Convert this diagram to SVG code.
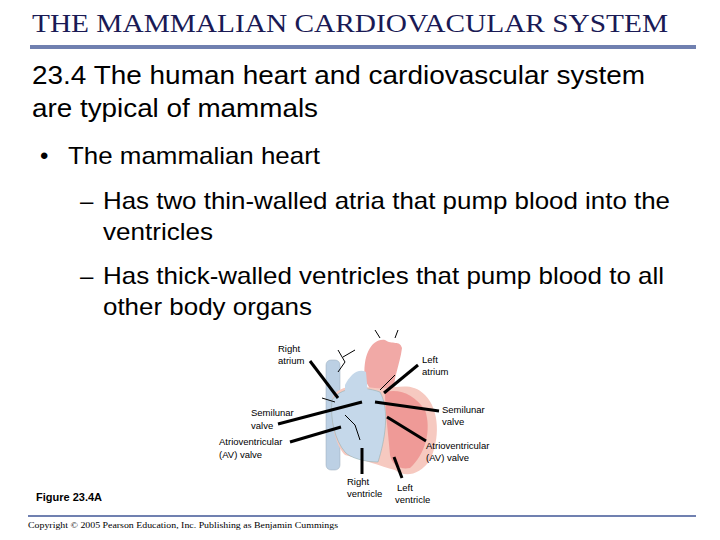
<svg xmlns="http://www.w3.org/2000/svg" width="720" height="540" viewBox="0 0 720 540">
<style>
.t{font-family:"Liberation Sans",Arial,sans-serif;fill:#000}
.s{font-family:"Liberation Sans",Arial,sans-serif;font-size:9.5px;fill:#000}
.ld{stroke:#000;stroke-width:3;fill:none}
.sm{stroke:#000;stroke-width:1;fill:none}
</style>
<rect width="720" height="540" fill="#fff"/>
<text x="32" y="32" font-family="Liberation Serif,serif" font-size="26" fill="#1a1a55" textLength="636" lengthAdjust="spacingAndGlyphs">THE MAMMALIAN CARDIOVACULAR SYSTEM</text>
<rect x="30" y="45" width="666" height="4" fill="#7080b0"/>
<text class="t" x="32" y="84" font-size="26" textLength="613" lengthAdjust="spacingAndGlyphs">23.4 The human heart and cardiovascular system</text>
<text class="t" x="32" y="117" font-size="26" textLength="286" lengthAdjust="spacingAndGlyphs">are typical of mammals</text>
<text class="t" x="40" y="164" font-size="24">•</text>
<text class="t" x="68" y="164" font-size="24" textLength="252" lengthAdjust="spacingAndGlyphs">The mammalian heart</text>
<text class="t" x="80" y="209" font-size="24">–</text>
<text class="t" x="103" y="209" font-size="24" textLength="567" lengthAdjust="spacingAndGlyphs">Has two thin-walled atria that pump blood into the</text>
<text class="t" x="103" y="240" font-size="24" textLength="110" lengthAdjust="spacingAndGlyphs">ventricles</text>
<text class="t" x="80" y="284" font-size="24">–</text>
<text class="t" x="103" y="284" font-size="24" textLength="561" lengthAdjust="spacingAndGlyphs">Has thick-walled ventricles that pump blood to all</text>
<text class="t" x="103" y="315" font-size="24" textLength="209" lengthAdjust="spacingAndGlyphs">other body organs</text>
<g id="heart">
<rect x="326" y="360" width="14" height="110" rx="5" fill="#bcd0e4" stroke="#9ab" stroke-width="0.5"/>
<path d="M365 380 C362 355,372 338,385 340 C392 345,400 340,402 348 C400 365,392 380,395 392 L375 398 Z" fill="#f1a9a6"/>
<path d="M332 400 C335 385,355 385,375 388 C395 390,410 380,425 395 C440 410,440 440,430 460 C420 475,405 478,395 470 C380 466,365 460,345 455 C335 445,330 420,332 400 Z" fill="#f6c9c0"/>
<path d="M332 400 C340 388,360 385,380 392 C390 410,385 440,378 462 C365 462,350 458,345 452 C335 440,330 420,332 400 Z" fill="#c5d8ea" stroke="#8aa" stroke-width="0.5"/>
<path d="M385 392 C400 388,415 395,425 410 C432 430,425 455,410 468 C400 470,392 465,390 455 C388 430,385 410,385 392 Z" fill="#ee8f8c" opacity="0.8"/>
<path d="M345 385 C350 375,358 368,366 372 L368 395 L345 398 Z" fill="#c5d8ea"/>
<path class="sm" d="M338 372 L345 362 M345 362 L338 350 M355 350 L343 357 M395 338 L398 330 M380 338 L375 330 M335 402 L322 398 M345 415 L355 425 L360 440 M380 390 L395 375"/>
</g>
<g id="connectors">
<line class="ld" x1="310" y1="361" x2="338" y2="398"/>
<line class="ld" x1="418" y1="365" x2="384" y2="393"/>
<line class="ld" x1="278" y1="424" x2="362" y2="402"/>
<line class="ld" x1="439" y1="411" x2="375" y2="402"/>
<line class="ld" x1="290" y1="442" x2="341" y2="427"/>
<line class="ld" x1="426" y1="441" x2="387" y2="417"/>
<line class="ld" x1="362" y1="448" x2="362" y2="474"/>
<line class="ld" x1="394" y1="457" x2="402" y2="478"/>
</g>
<g id="labels">
<text class="s" x="278" y="352">Right</text>
<text class="s" x="278" y="364">atrium</text>
<text class="s" x="422" y="363">Left</text>
<text class="s" x="422" y="375">atrium</text>
<text class="s" x="251" y="416">Semilunar</text>
<text class="s" x="251" y="429">valve</text>
<text class="s" x="442" y="413">Semilunar</text>
<text class="s" x="442" y="425">valve</text>
<text class="s" x="219" y="445">Atrioventricular</text>
<text class="s" x="219" y="458">(AV) valve</text>
<text class="s" x="426" y="449">Atrioventricular</text>
<text class="s" x="426" y="461">(AV) valve</text>
<text class="s" x="347" y="485">Right</text>
<text class="s" x="347" y="497">ventricle</text>
<text class="s" x="397" y="491">Left</text>
<text class="s" x="395" y="503">ventricle</text>
</g>
<text x="36" y="501" font-family="Liberation Sans,Arial,sans-serif" font-size="11" font-weight="bold">Figure 23.4A</text>
<rect x="28" y="515" width="668" height="2" fill="#7080b0"/>
<text x="28" y="528" font-family="Liberation Serif,serif" font-size="9" textLength="310" lengthAdjust="spacingAndGlyphs">Copyright © 2005 Pearson Education, Inc. Publishing as Benjamin Cummings</text>
</svg>
